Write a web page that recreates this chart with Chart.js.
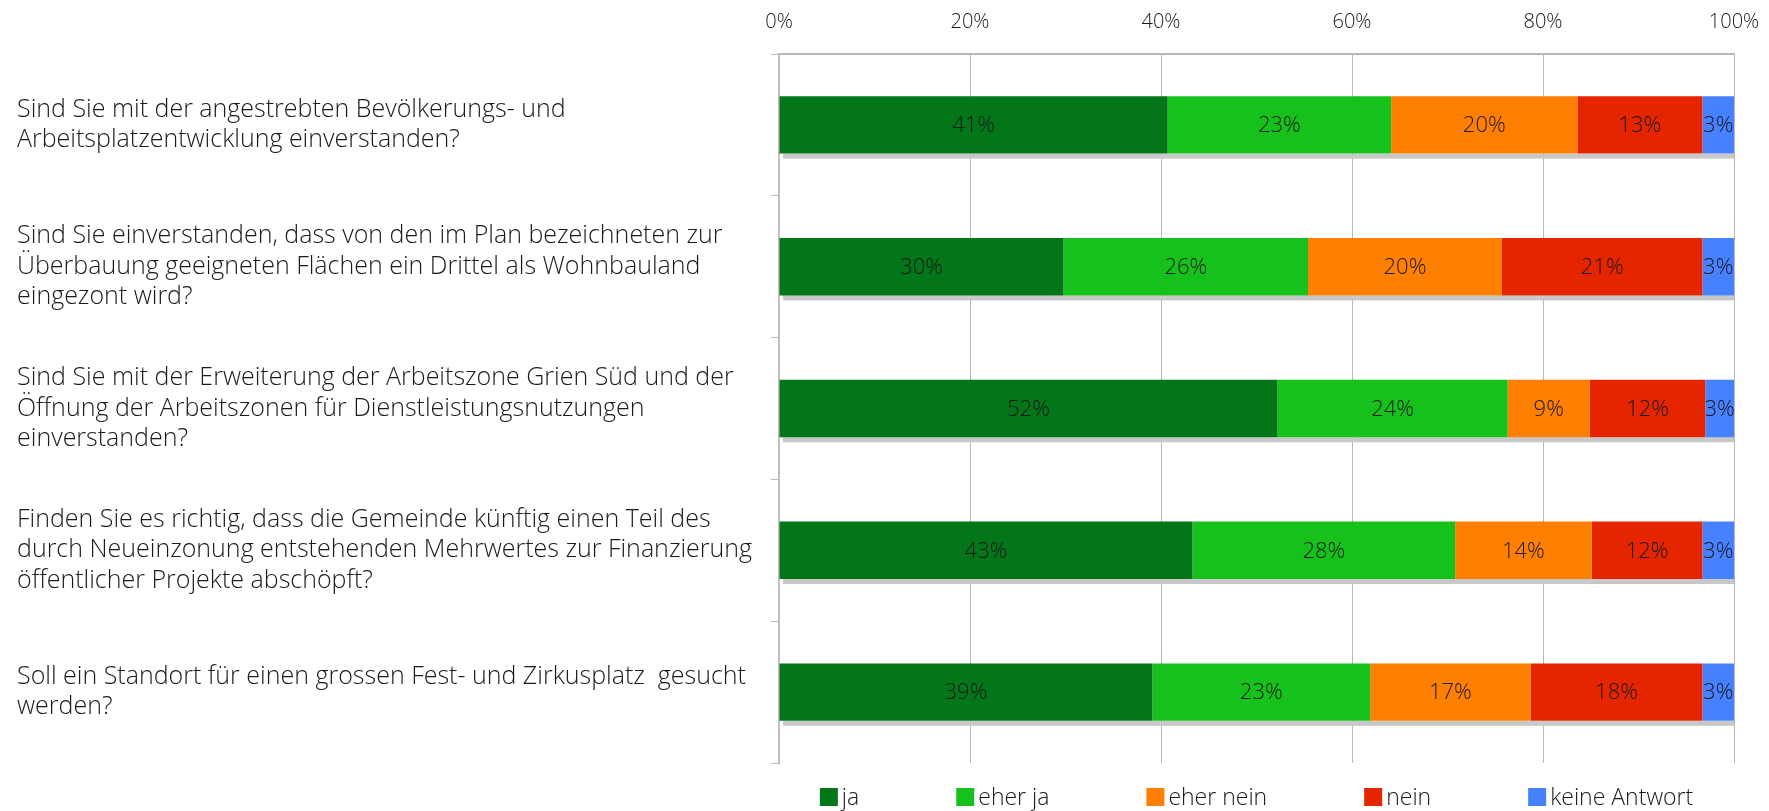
<!DOCTYPE html>
<html lang="de">
<head>
  <meta charset="UTF-8">
  <title>Umfrage</title>
  <script src="https://cdn.jsdelivr.net/npm/chart.js"></script>
  <style>
    body {
      margin: 0;
      background: #fff;
      overflow: hidden;
    }
    canvas {
      display: block;
    }
  </style>
</head>
<body>
  <canvas id="surveyChart" width="1769" height="811"></canvas>

  <script>
    // questions (multi-line labels)
    const questions = [
      ['Sind Sie mit der angestrebten Bevölkerungs- und', 'Arbeitsplatzentwicklung einverstanden?'],
      ['Sind Sie einverstanden, dass von den im Plan bezeichneten zur', 'Überbauung geeigneten Flächen ein Drittel als Wohnbauland', 'eingezont wird?'],
      ['Sind Sie mit der Erweiterung der Arbeitszone Grien Süd und der', 'Öffnung der Arbeitszonen für Dienstleistungsnutzungen', 'einverstanden?'],
      ['Finden Sie es richtig, dass die Gemeinde künftig einen Teil des', 'durch Neueinzonung entstehenden Mehrwertes zur Finanzierung', 'öffentlicher Projekte abschöpft?'],
      ['Soll ein Standort für einen grossen Fest- und Zirkusplatz  gesucht', 'werden?']
    ];

    const seriesNames = ['ja', 'eher ja', 'eher nein', 'nein', 'keine Antwort'];
    const seriesColors = ['#037619', '#17c11c', '#ff7f00', '#e52500', '#4681ff'];

    // percent values per answer
    const ja = [40.7, 29.8, 52.2, 43.3, 39.1];
    const eherJa = [23.4, 25.6, 24.1, 27.5, 22.8];
    const eherNein = [19.5, 20.3, 8.6, 14.3, 16.8];
    const nein = [13.1, 21.0, 12.1, 11.6, 18.0];
    const keineAntwort = [3.3, 3.3, 3.0, 3.3, 3.3];

    const xTicks = [0, 20, 40, 60, 80, 100];

    const FONT = "'Open Sans', sans-serif";
    const textColor = '#1a1a1a';
    const gridColor = '#b8b8b8';

    // grey shadow under every bar
    const barShadow = {
      id: 'barShadow',
      beforeDatasetsDraw(chart) {
        const ctx = chart.ctx;
        const x = chart.scales.x;
        const meta = chart.getDatasetMeta(0);
        ctx.save();
        ctx.fillStyle = '#c8c8c8';
        meta.data.forEach(bar => {
          const bottom = bar.y + bar.height / 2;
          const left = x.getPixelForValue(0) + 4;
          const right = x.getPixelForValue(100);
          ctx.fillRect(left, bottom, right - left, 5);
        });
        ctx.restore();
      }
    };

    // percent text in the middle of each segment
    const segmentLabels = {
      id: 'segmentLabels',
      afterDatasetsDraw(chart) {
        const ctx = chart.ctx;
        ctx.save();
        ctx.font = `300 22px ${FONT}`;
        ctx.fillStyle = textColor;
        ctx.textAlign = 'center';
        ctx.textBaseline = 'middle';
        chart.data.datasets.forEach((ds, i) => {
          const meta = chart.getDatasetMeta(i);
          meta.data.forEach((bar, j) => {
            const cx = (bar.x + bar.base) / 2;
            ctx.fillText(Math.round(ds.data[j]) + '%', cx, bar.y + 1);
          });
        });
        ctx.restore();
      }
    };

    // spaced legend centered under the plot area
    const spacedLegend = {
      id: 'spacedLegend',
      afterDraw(chart) {
        const ctx = chart.ctx;
        const area = chart.chartArea;
        const box = 18, gap = 4, spacing = 97;
        ctx.save();
        ctx.font = `300 23px ${FONT}`;
        const widths = chart.data.datasets.map(ds => box + gap + ctx.measureText(ds.label).width);
        const total = widths.reduce((a, b) => a + b, 0) + spacing * (widths.length - 1);
        let x = (area.left + area.right) / 2 - total / 2;
        const y = 797;
        ctx.textBaseline = 'middle';
        ctx.textAlign = 'left';
        chart.data.datasets.forEach((ds, i) => {
          ctx.fillStyle = ds.backgroundColor;
          ctx.fillRect(x, y - box / 2, box, box);
          ctx.fillStyle = textColor;
          ctx.fillText(ds.label, x + box + gap, y + 1);
          x += widths[i] + spacing;
        });
        ctx.restore();
      }
    };

    const seriesData = [ja, eherJa, eherNein, nein, keineAntwort];

    new Chart(document.getElementById('surveyChart'), {
      type: 'bar',
      data: {
        labels: questions,
        datasets: seriesNames.map((name, i) => ({
          label: name,
          data: seriesData[i],
          backgroundColor: seriesColors[i],
          borderWidth: 0,
          barPercentage: 0.405,
          categoryPercentage: 1
        }))
      },
      options: {
        indexAxis: 'y',
        responsive: false,
        devicePixelRatio: 1,
        animation: false,
        layout: {
          padding: { left: 17, right: 35, top: 0, bottom: 48 }
        },
        plugins: {
          legend: { display: false },
          tooltip: { enabled: false }
        },
        scales: {
          x: {
            position: 'top',
            stacked: true,
            min: 0,
            max: 100,
            afterBuildTicks(scale) {
              scale.ticks = xTicks.map(v => ({ value: v }));
            },
            afterFit(scale) {
              scale.height = 54;
            },
            grid: {
              color: gridColor,
              lineWidth: 1,
              drawTicks: true,
              tickLength: 20,
              tickColor: 'rgba(0,0,0,0)'
            },
            border: { display: true, color: gridColor, width: 2 },
            ticks: {
              padding: 0,
              color: textColor,
              font: { family: FONT, size: 20, weight: 300 },
              callback: v => v + '%'
            }
          },
          y: {
            stacked: true,
            afterFit(scale) {
              scale.width = 779 - 17;
            },
            grid: {
              offset: true,
              drawOnChartArea: false,
              tickLength: 8,
              color: gridColor
            },
            border: { display: true, color: '#c0c0c0', width: 2 },
            ticks: {
              crossAlign: 'far',
              color: textColor,
              font: { family: FONT, size: 25, weight: 300, lineHeight: 1.22 }
            }
          }
        }
      },
      plugins: [barShadow, segmentLabels, spacedLegend]
    });
  </script>
</body>
</html>
